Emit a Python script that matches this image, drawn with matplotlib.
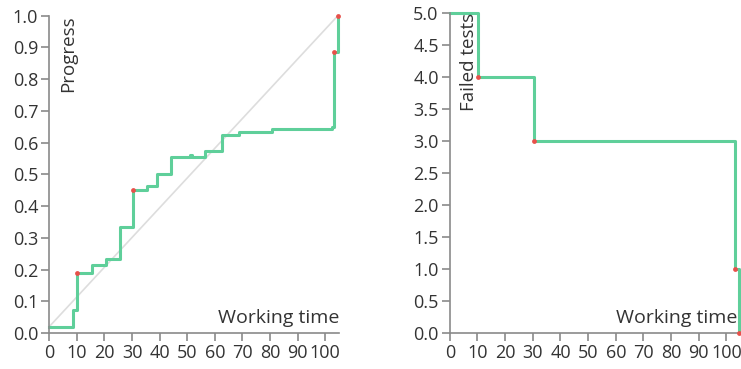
import matplotlib
matplotlib.use("Agg")
from matplotlib import pyplot as plt

# progress over working time (step, post)
prog_t = [0, 8.7, 10.2, 15.4, 20.6, 25.6, 30.5, 35.3, 38.9, 44.1, 51.0, 51.8,
          56.5, 62.5, 68.9, 80.7, 102.6, 103.2, 104.6]
prog_v = [0.02, 0.073, 0.19, 0.213, 0.233, 0.333, 0.451, 0.464, 0.50, 0.556,
          0.56, 0.556, 0.575, 0.624, 0.632, 0.642, 0.648, 0.887, 1.0]

# failed tests over working time
fail_t = [0, 10.2, 30.5, 103.2, 104.6]
fail_v = [5, 4, 3, 1, 0]

# moments where a test started passing
mark_t = [10.2, 30.5, 103.2, 104.6]
mark_prog = [0.19, 0.451, 0.887, 1.0]

x_ticks = [0, 10, 20, 30, 40, 50, 60, 70, 80, 90, 100]
prog_ticks = [0.0, 0.1, 0.2, 0.3, 0.4, 0.5, 0.6, 0.7, 0.8, 0.9, 1.0]
fail_ticks = [0.0, 0.5, 1.0, 1.5, 2.0, 2.5, 3.0, 3.5, 4.0, 4.5, 5.0]

GREEN = "#5fcf9a"
RED = "#e8504a"
AXIS = "#8a8a8a"
TEXT = "#333333"

plt.rcParams['font.family'] = ['Open Sans', 'DejaVu Sans']

fig = plt.figure(figsize=(7.41, 3.69), dpi=100)
ax1 = fig.add_axes([0.0665, 0.0976, 0.391, 0.860])
ax2 = fig.add_axes([0.607, 0.0967, 0.392, 0.869])


def style(ax, ticks_y, fmt):
    for s in ("top", "right"):
        ax.spines[s].set_visible(False)
    for s in ("left", "bottom"):
        ax.spines[s].set_color(AXIS)
        ax.spines[s].set_linewidth(1.2)
    ax.set_xticks(x_ticks)
    ax.set_xticklabels([str(v) for v in x_ticks])
    ax.set_yticks(ticks_y)
    ax.set_yticklabels([fmt % v for v in ticks_y])
    ax.tick_params(colors=AXIS, labelcolor=TEXT, labelsize=13, length=6,
                   width=1.2, pad=2)
    ax.set_xlim(0, 105)


# left: progress
ax1.plot([0, 104.6], [0.02, 1.0], color="#dddddd", lw=1.2, zorder=1)
ax1.plot(prog_t, prog_v, drawstyle="steps-post", color=GREEN, lw=2.2,
         zorder=2, clip_on=False)
ax1.scatter(mark_t, mark_prog, s=12, color=RED, zorder=3, clip_on=False,
            linewidths=0)
ax1.set_ylim(0, 1.0)
style(ax1, prog_ticks, "%.1f")
ax1.text(0.035, 1.0, "Progress", rotation=90, transform=ax1.transAxes,
         ha="left", va="top", fontsize=13.5, color=TEXT)
ax1.text(1.0, 0.02, "Working time", transform=ax1.transAxes, ha="right",
         va="bottom", fontsize=14, color=TEXT)

# right: failed tests
ax2.plot(fail_t, fail_v, drawstyle="steps-post", color=GREEN, lw=2.2,
         zorder=2, clip_on=False)
ax2.scatter(fail_t[1:], fail_v[1:], s=12, color=RED, zorder=3,
            clip_on=False, linewidths=0)
ax2.set_ylim(0, 5.0)
style(ax2, fail_ticks, "%.1f")
ax2.text(0.035, 1.0, "Failed tests", rotation=90, transform=ax2.transAxes,
         ha="left", va="top", fontsize=13.5, color=TEXT)
ax2.text(0.99, 0.02, "Working time", transform=ax2.transAxes, ha="right",
         va="bottom", fontsize=14, color=TEXT)

fig.savefig("out.png", dpi=100)
